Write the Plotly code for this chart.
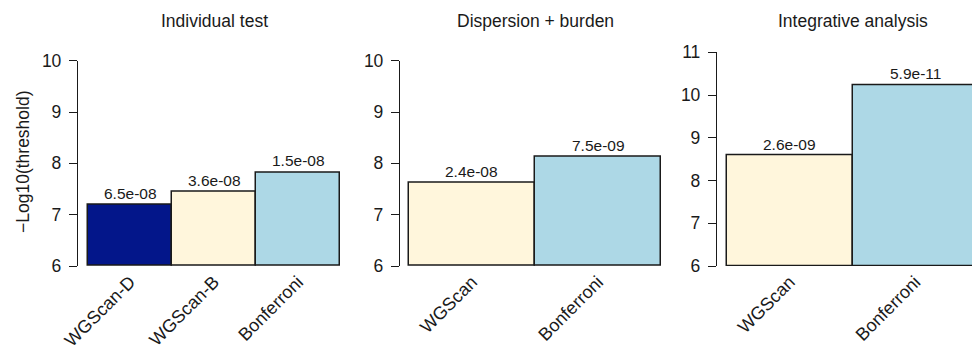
import math
import plotly.graph_objects as go

# Significance thresholds per method, one list per panel
panel_titles = ["Individual test", "Dispersion + burden", "Integrative analysis"]

methods_individual = ["WGScan-D", "WGScan-B", "Bonferroni"]
pvals_individual = [6.5e-08, 3.6e-08, 1.5e-08]

methods_dispersion = ["WGScan", "Bonferroni"]
pvals_dispersion = [2.4e-08, 7.5e-09]

methods_integrative = ["WGScan", "Bonferroni"]
pvals_integrative = [2.6e-09, 5.9e-11]

y_ticks_a = [6, 7, 8, 9, 10]
y_ticks_b = [6, 7, 8, 9, 10, 11]

NAVY = "#03168A"
CREAM = "#FFF6DC"
LIGHTBLUE = "#ADD8E6"
INK = "#1a1a1a"
FONT = "Liberation Sans, Arial, Helvetica, sans-serif"

W, H = 972, 352
BASE = 6


def px_x(p):
    return p / W


def px_y(p):
    return 1 - p / H


panels = [
    dict(methods=methods_individual, pvals=pvals_individual,
         colors=[NAVY, CREAM, LIGHTBLUE], ticks=y_ticks_a,
         xdom=(78, 350), xr=(-0.619, 2.619), ytop=60.7),
    dict(methods=methods_dispersion, pvals=pvals_dispersion,
         colors=[CREAM, LIGHTBLUE], ticks=y_ticks_a,
         xdom=(400, 670), xr=(-0.571, 1.571), ytop=60.7),
    dict(methods=methods_integrative, pvals=pvals_integrative,
         colors=[CREAM, LIGHTBLUE], ticks=y_ticks_b,
         xdom=(717, 972), xr=(-0.58, 1.452), ytop=52.3),
]

fig = go.Figure()
annotations = []
layout = {}

for i, p in enumerate(panels, start=1):
    sfx = "" if i == 1 else str(i)
    heights = [-math.log10(v) for v in p["pvals"]]
    xs = list(range(len(p["methods"])))
    fig.add_trace(go.Bar(
        x=xs, y=[h - BASE for h in heights], base=BASE, width=1,
        marker=dict(color=p["colors"], line=dict(color=INK, width=1.5)),
        xaxis="x" + sfx, yaxis="y" + sfx, showlegend=False,
        customdata=p["pvals"],
        hovertemplate="%{customdata:.1e}<extra></extra>",
    ))
    for x, h, v in zip(xs, heights, p["pvals"]):
        annotations.append(dict(
            x=x, y=h, xref="x" + sfx, yref="y" + sfx,
            text=f"{v:.1e}", showarrow=False, yanchor="bottom", yshift=1,
            font=dict(size=15.5, color=INK, family=FONT),
        ))
    layout["xaxis" + sfx] = dict(
        domain=[px_x(p["xdom"][0]), px_x(p["xdom"][1])],
        range=list(p["xr"]), anchor="y" + sfx, automargin=False,
        tickvals=xs, ticktext=p["methods"], tickangle=-45,
        ticklabelstandoff=1,
        showline=False, showgrid=False, zeroline=False, ticks="",
        tickfont=dict(size=18, color=INK, family=FONT),
    )
    layout["yaxis" + sfx] = dict(
        domain=[px_y(266), px_y(p["ytop"])],
        range=[p["ticks"][0], p["ticks"][-1]], anchor="x" + sfx,
        automargin=False, ticklabelstandoff=4,
        tickvals=p["ticks"], showline=True, linecolor=INK, linewidth=1.3,
        ticks="outside", ticklen=8, tickwidth=1.3, tickcolor=INK,
        showgrid=False, zeroline=False,
        tickfont=dict(size=17.5, color=INK, family=FONT),
    )
    # Panel title centred over the bars
    n = len(p["methods"])
    span = p["xr"][1] - p["xr"][0]
    width_px = p["xdom"][1] - p["xdom"][0]
    left = p["xdom"][0] + (-0.5 - p["xr"][0]) / span * width_px
    right = p["xdom"][0] + (n - 0.5 - p["xr"][0]) / span * width_px
    annotations.append(dict(
        x=px_x((left + right) / 2), y=px_y(21), xref="paper", yref="paper",
        text=panel_titles[i - 1], showarrow=False,
        xanchor="center", yanchor="middle",
        font=dict(size=17.5, color=INK, family=FONT),
    ))

annotations.append(dict(
    x=px_x(23), y=px_y(162), xref="paper", yref="paper",
    text="\u2212Log10(threshold)", textangle=-90, showarrow=False,
    xanchor="center", yanchor="middle",
    font=dict(size=17.5, color=INK, family=FONT),
))

fig.update_layout(
    width=W, height=H,
    margin=dict(l=0, r=0, t=0, b=0),
    paper_bgcolor="white", plot_bgcolor="white",
    annotations=annotations,
    bargap=0,
    **layout,
)

fig.write_html("out.html")
